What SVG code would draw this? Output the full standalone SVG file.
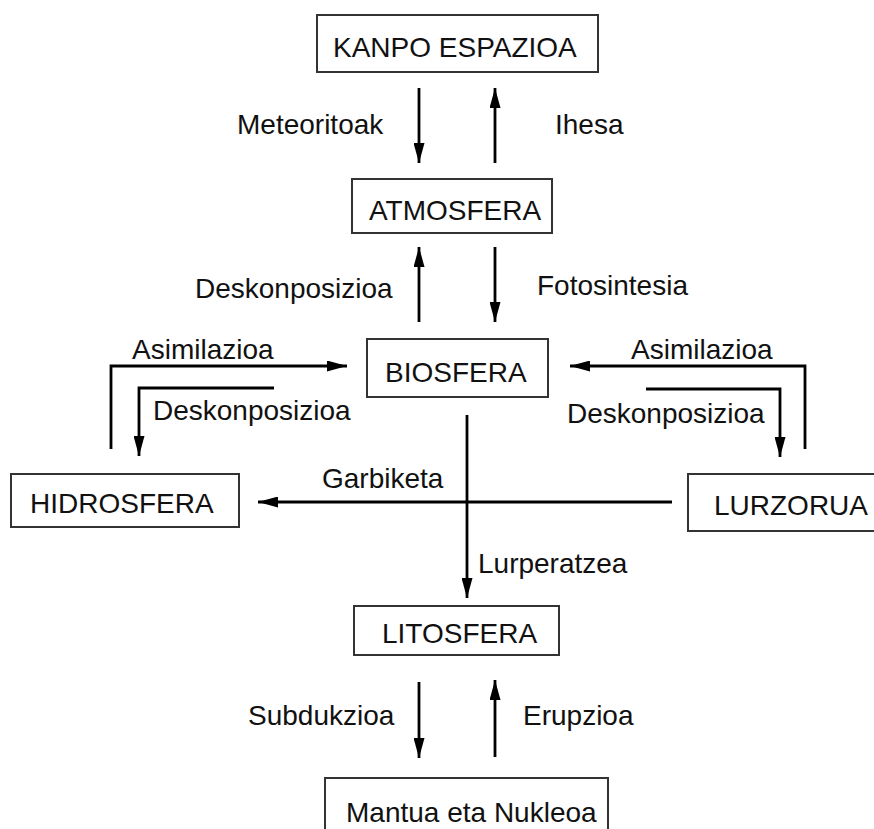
<svg xmlns="http://www.w3.org/2000/svg" width="874" height="829" viewBox="0 0 874 829">
  <defs>
    <marker id="arrow" viewBox="0 0 20 11" refX="20" refY="5.5" markerWidth="20" markerHeight="11" markerUnits="userSpaceOnUse" orient="auto">
      <path d="M0,0 L20,5.5 L0,11 z" fill="#000"/>
    </marker>
  </defs>
  <style>
    .box { fill: #fff; stroke: #333; stroke-width: 2; }
    .lbl { font-family: "Liberation Sans", Arial, sans-serif; font-size: 28px; fill: #111; }
    .conn { fill: none; stroke: #000; stroke-width: 2.8; }
    .arr { marker-end: url(#arrow); }
  </style>
  <rect width="874" height="829" fill="#fff"/>

  <!-- nodes -->
  <g id="kanpo-espazioa">
    <rect class="box" x="317" y="15" width="281" height="57"/>
    <text class="lbl" x="333" y="57">KANPO ESPAZIOA</text>
  </g>
  <g id="atmosfera">
    <rect class="box" x="352" y="179" width="200" height="54"/>
    <text class="lbl" x="369" y="220">ATMOSFERA</text>
  </g>
  <g id="biosfera">
    <rect class="box" x="367" y="339" width="181" height="58"/>
    <text class="lbl" x="385" y="382">BIOSFERA</text>
  </g>
  <g id="hidrosfera">
    <rect class="box" x="11" y="474" width="228" height="53"/>
    <text class="lbl" x="30" y="513">HIDROSFERA</text>
  </g>
  <g id="lurzorua">
    <rect class="box" x="688" y="474" width="190" height="57"/>
    <text class="lbl" x="714" y="515">LURZORUA</text>
  </g>
  <g id="litosfera">
    <rect class="box" x="354" y="606" width="205" height="49"/>
    <text class="lbl" x="382" y="643">LITOSFERA</text>
  </g>
  <g id="mantua-nukleoa">
    <rect class="box" x="325" y="778" width="283" height="70"/>
    <text class="lbl" x="346" y="822">Mantua eta Nukleoa</text>
  </g>

  <!-- connectors -->
  <g id="connectors">
    <line class="conn arr" x1="419" y1="88" x2="419" y2="163"/>
    <line class="conn arr" x1="495" y1="163" x2="495" y2="88"/>
    <line class="conn arr" x1="419" y1="322" x2="419" y2="247"/>
    <line class="conn arr" x1="495" y1="247" x2="495" y2="322"/>
    <polyline class="conn arr" points="111,449 111,366 347,366"/>
    <polyline class="conn arr" points="274,388 139,388 139,456"/>
    <polyline class="conn arr" points="805,449 805,366 570,366"/>
    <polyline class="conn arr" points="646,389 780,389 780,457"/>
    <line class="conn arr" x1="672" y1="502" x2="258" y2="502"/>
    <line class="conn arr" x1="467" y1="415" x2="467" y2="598"/>
    <line class="conn arr" x1="419" y1="682" x2="419" y2="758"/>
    <line class="conn arr" x1="495" y1="757" x2="495" y2="680"/>
  </g>

  <!-- connector labels -->
  <g id="connector-labels">
    <text class="lbl" x="237" y="134">Meteoritoak</text>
    <text class="lbl" x="555" y="134">Ihesa</text>
    <text class="lbl" x="195" y="298">Deskonposizioa</text>
    <text class="lbl" x="537" y="295">Fotosintesia</text>
    <text class="lbl" x="132" y="359">Asimilazioa</text>
    <text class="lbl" x="153" y="420">Deskonposizioa</text>
    <text class="lbl" x="631" y="359">Asimilazioa</text>
    <text class="lbl" x="567" y="423">Deskonposizioa</text>
    <text class="lbl" x="322" y="488">Garbiketa</text>
    <text class="lbl" x="478" y="573">Lurperatzea</text>
    <text class="lbl" x="248" y="725">Subdukzioa</text>
    <text class="lbl" x="523" y="725">Erupzioa</text>
  </g>
</svg>
